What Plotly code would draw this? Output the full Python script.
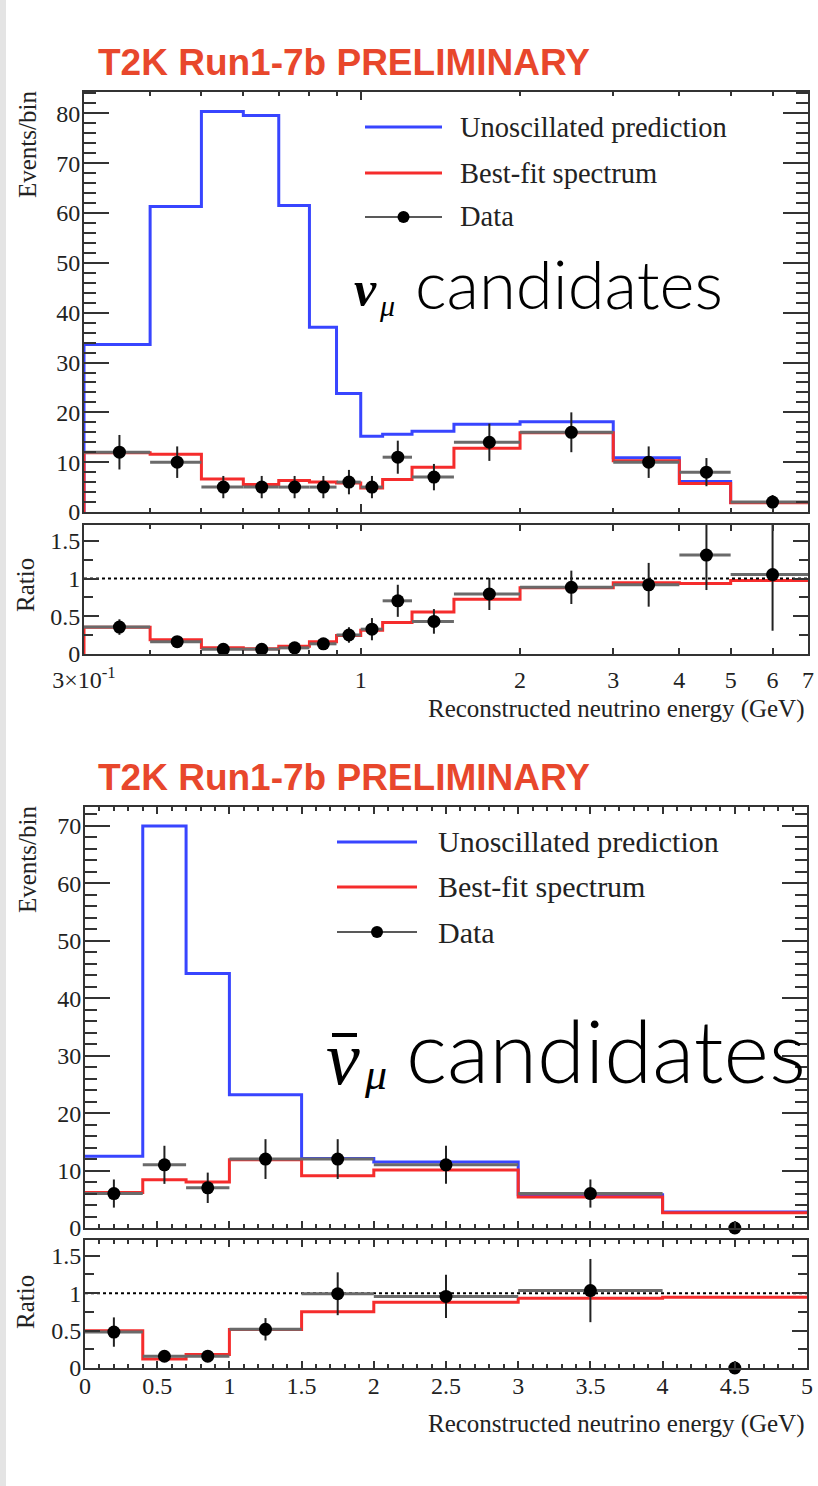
import math
import plotly.graph_objects as go

# ---------------- nu_mu sample (log energy axis) ----------------
numu_edges = [0.3, 0.4, 0.5, 0.6, 0.7, 0.8, 0.9, 1.0, 1.1, 1.25, 1.5, 2.0, 3.0, 4.0, 5.0, 7.0]
numu_unosc = [33.6, 61.3, 80.4, 79.6, 61.5, 37.1, 23.8, 15.2, 15.6, 16.2, 17.6, 18.1, 10.9, 6.1, 1.9]
numu_bestfit = [11.9, 11.6, 6.6, 5.5, 6.3, 6.0, 5.8, 4.8, 6.5, 9.0, 12.8, 15.9, 10.3, 5.7, 1.85]
numu_data = [12, 10, 5, 5, 5, 5, 6, 5, 11, 7, 14, 16, 10, 8, 2]

# ---------------- anti-nu_mu sample (linear energy axis) ----------------
anumu_edges = [0.0, 0.4, 0.7, 1.0, 1.5, 2.0, 3.0, 4.0, 5.0]
anumu_unosc = [12.5, 70.0, 44.3, 23.2, 12.1, 11.5, 5.8, 2.8]
anumu_bestfit = [6.2, 8.4, 8.0, 11.9, 9.1, 10.1, 5.4, 2.65]
anumu_data = [6, 11, 7, 12, 12, 11, 6, 0]

log_ticks = [0.3, 1, 2, 3, 4, 5, 6, 7]
log_ticktext = ["3×10<sup>-1</sup>", "1", "2", "3", "4", "5", "6", "7"]
log_minor = [0.4, 0.5, 0.6, 0.7, 0.8, 0.9]
lin_ticks = [0, 0.5, 1, 1.5, 2, 2.5, 3, 3.5, 4, 4.5, 5]
lin_ticktext = ["0", "0.5", "1", "1.5", "2", "2.5", "3", "3.5", "4", "4.5", "5"]
ratio_ticks = [0, 0.5, 1, 1.5]
ratio_ticktext = ["0", "0.5", "1", "1.5"]

W, H = 818, 1486
BLUE = "#3845ff"
RED = "#f52c2c"
FRAME = "#333333"
SERIF = "Liberation Serif"
TITLE_RED = "#e8472c"


def fx(p):
    return p / W


def fy(p):
    return 1 - p / H


def step_xy(edges, vals, from_zero=False):
    xs = list(edges)
    ys = list(vals) + [vals[-1]]
    if from_zero:
        xs = [edges[0]] + xs
        ys = [0] + ys
    return xs, ys


fig = go.Figure()


def add_panel(edges, unosc, bestfit, data, xa, ya, xr, yr, left_drop):
    centers = [(a + b) / 2 for a, b in zip(edges[:-1], edges[1:])]
    # empty bins get no error bars
    xm = [c - a if n > 0 else 0 for c, a, n in zip(centers, edges[:-1], data)]
    xp = [b - c if n > 0 else 0 for c, b, n in zip(centers, edges[1:], data)]
    errs = [math.sqrt(n) for n in data]

    # spectrum panel
    bx, by = step_xy(edges, unosc, left_drop)
    fig.add_trace(go.Scatter(x=bx, y=by, mode="lines", line=dict(color=BLUE, width=3, shape="hv"),
                             xaxis=xa, yaxis=ya, showlegend=False, hoverinfo="skip"))
    rx, ry = step_xy(edges, bestfit, left_drop)
    fig.add_trace(go.Scatter(x=rx, y=ry, mode="lines", line=dict(color=RED, width=3, shape="hv"),
                             xaxis=xa, yaxis=ya, showlegend=False, hoverinfo="skip"))
    fig.add_trace(go.Scatter(x=centers, y=data, mode="markers",
                             marker=dict(size=2, color="rgba(0,0,0,0)"),
                             error_x=dict(type="data", symmetric=False, array=xp, arrayminus=xm,
                                          color="#6a6a6a", thickness=3, width=0),
                             error_y=dict(type="data", array=errs, color="#222222", thickness=2, width=0),
                             xaxis=xa, yaxis=ya, showlegend=False, hoverinfo="skip"))
    fig.add_trace(go.Scatter(x=centers, y=data, mode="markers", cliponaxis=False,
                             marker=dict(size=13, color="black"),
                             xaxis=xa, yaxis=ya, showlegend=False, hoverinfo="skip"))

    # ratio panel
    r_fit = [b / u for b, u in zip(bestfit, unosc)]
    r_dat = [d / u for d, u in zip(data, unosc)]
    r_err = [e / u for e, u in zip(errs, unosc)]
    fx_, fy_ = step_xy(edges, r_fit, left_drop)
    fig.add_trace(go.Scatter(x=fx_, y=fy_, mode="lines", line=dict(color=RED, width=3, shape="hv"),
                             xaxis=xr, yaxis=yr, showlegend=False, hoverinfo="skip"))
    fig.add_trace(go.Scatter(x=[edges[0], edges[-1]], y=[1, 1], mode="lines",
                             line=dict(color="black", width=2, dash="dot"),
                             xaxis=xr, yaxis=yr, showlegend=False, hoverinfo="skip"))
    fig.add_trace(go.Scatter(x=centers, y=r_dat, mode="markers",
                             marker=dict(size=2, color="rgba(0,0,0,0)"),
                             error_x=dict(type="data", symmetric=False, array=xp, arrayminus=xm,
                                          color="#6a6a6a", thickness=3, width=0),
                             error_y=dict(type="data", array=r_err, color="#222222", thickness=2, width=0),
                             xaxis=xr, yaxis=yr, showlegend=False, hoverinfo="skip"))
    fig.add_trace(go.Scatter(x=centers, y=r_dat, mode="markers", cliponaxis=False,
                             marker=dict(size=13, color="black"),
                             xaxis=xr, yaxis=yr, showlegend=False, hoverinfo="skip"))


add_panel(numu_edges, numu_unosc, numu_bestfit, numu_data, "x", "y", "x2", "y2", True)
add_panel(anumu_edges, anumu_unosc, anumu_bestfit, anumu_data, "x3", "y3", "x4", "y4", False)

tickfont = dict(family=SERIF, size=24, color="#222222")
frame = dict(showline=True, linecolor=FRAME, linewidth=2, mirror="allticks", ticks="inside",
             tickcolor=FRAME, showgrid=False, zeroline=False, tickfont=tickfont, automargin=False)

log_range = [math.log10(numu_edges[0]), math.log10(numu_edges[-1])]

fig.update_layout(
    template="none",
    width=W, height=H, autosize=False,
    margin=dict(l=0, r=0, t=0, b=0, pad=0),
    paper_bgcolor="white", plot_bgcolor="white",
    xaxis=dict(**frame, type="log", range=log_range, domain=[fx(84), fx(808)], anchor="y",
               tickvals=[1], ticklen=8, tickwidth=1.5, showticklabels=False,
               minor=dict(tickvals=log_minor + [2, 3, 4, 5, 6], ticks="inside", ticklen=4, tickcolor=FRAME)),
    yaxis=dict(**frame, range=[0, 84.3], domain=[fy(512), fy(92)], anchor="x",
               tick0=0, dtick=10, ticklen=25, tickwidth=1.5, ticklabelstandoff=-3,
               minor=dict(dtick=2, ticks="inside", ticklen=12, tickcolor=FRAME)),
    xaxis2=dict(**frame, type="log", range=log_range, domain=[fx(84), fx(808)], anchor="y2",
                tickvals=log_ticks, ticktext=log_ticktext, ticklen=6, tickwidth=1.5,
                ticklabelstandoff=3,
                minor=dict(tickvals=log_minor, ticks="inside", ticklen=4, tickcolor=FRAME)),
    yaxis2=dict(**frame, range=[0, 1.71], domain=[fy(654), fy(525)], anchor="x2",
                tickvals=ratio_ticks, ticktext=ratio_ticktext, ticklen=15, tickwidth=1.5,
                ticklabelstandoff=-3,
                minor=dict(dtick=0.25, ticks="inside", ticklen=9, tickcolor=FRAME)),
    xaxis3=dict(**frame, range=[0, 5], domain=[fx(85), fx(807)], anchor="y3",
                tick0=0, dtick=0.5, ticklen=7, tickwidth=1.5, showticklabels=False,
                minor=dict(dtick=0.1, ticks="inside", ticklen=4, tickcolor=FRAME)),
    yaxis3=dict(**frame, range=[0, 73.3], domain=[fy(1228), fy(807)], anchor="x3",
                tick0=0, dtick=10, ticklen=25, tickwidth=1.5, ticklabelstandoff=-3,
                minor=dict(dtick=2, ticks="inside", ticklen=12, tickcolor=FRAME)),
    xaxis4=dict(**frame, range=[0, 5], domain=[fx(85), fx(807)], anchor="y4",
                tickvals=lin_ticks, ticktext=lin_ticktext, ticklen=7, tickwidth=1.5,
                ticklabelstandoff=-5,
                minor=dict(dtick=0.1, ticks="inside", ticklen=4, tickcolor=FRAME)),
    yaxis4=dict(**frame, range=[0, 1.71], domain=[fy(1368), fy(1240)], anchor="x4",
                tickvals=ratio_ticks, ticktext=ratio_ticktext, ticklen=15, tickwidth=1.5,
                ticklabelstandoff=-3,
                minor=dict(dtick=0.25, ticks="inside", ticklen=9, tickcolor=FRAME)),
)

annotations = []
shapes = []

# soft grey edge of the slide behind the figure
shapes.append(dict(type="rect", xref="paper", yref="paper", x0=0, x1=fx(6), y0=0, y1=1,
                   fillcolor="#e4e4e4", line=dict(width=0), layer="below"))


def text(x, y, s, size, family=SERIF, color="#222222", xanchor="left", angle=0, weight="normal", style="normal"):
    annotations.append(dict(x=fx(x), y=fy(y), xref="paper", yref="paper", text=s, showarrow=False,
                            xanchor=xanchor, yanchor="middle", textangle=angle,
                            font=dict(family=family, size=size, color=color, weight=weight, style=style)))


for top in (62, 777):
    text(96, top, "T2K Run1-7b PRELIMINARY", 37, family="Liberation Sans", color=TITLE_RED, weight="bold")

# axis titles
text(27, 145, "Events/bin", 25, xanchor="center", angle=-90)
text(25, 585, "Ratio", 25, xanchor="center", angle=-90)
text(807, 709, "Reconstructed neutrino energy (GeV)", 25, xanchor="right")
text(27, 860, "Events/bin", 25, xanchor="center", angle=-90)
text(25, 1302, "Ratio", 25, xanchor="center", angle=-90)
text(807, 1424, "Reconstructed neutrino energy (GeV)", 25, xanchor="right")


def legend(x0, x1, xt, rows, size):
    labels = ["Unoscillated prediction", "Best-fit spectrum", "Data"]
    colors = [BLUE, RED, "#222222"]
    widths = [3, 3, 1.5]
    for lab, col, w, yy in zip(labels, colors, widths, rows):
        shapes.append(dict(type="line", xref="paper", yref="paper", x0=fx(x0), x1=fx(x1),
                           y0=fy(yy), y1=fy(yy), line=dict(color=col, width=w)))
        text(xt, yy, lab, size)
    xc = (x0 + x1) / 2
    yd = rows[2]
    shapes.append(dict(type="circle", xref="paper", yref="paper", x0=fx(xc - 6), x1=fx(xc + 6),
                       y0=fy(yd + 6), y1=fy(yd - 6), fillcolor="black", line=dict(width=0)))


legend(365, 442, 458, [127, 173, 217], 28.5)
legend(337, 417, 436, [842, 887, 932], 30)

# sample labels
text(352, 289, "ν", 50, weight="bold", style="italic", color="black")
text(377, 305, "μ", 30, style="italic", color="black")
text(413, 283, "candidates", 67, family="Lato", color="black", weight=300)

text(324, 1058, "ν", 76, style="italic", color="black")
text(362, 1074, "μ", 44, style="italic", color="black")
shapes.append(dict(type="line", xref="paper", yref="paper", x0=fx(332), x1=fx(357),
                   y0=fy(1035), y1=fy(1035), line=dict(color="black", width=4)))
text(404, 1049, "candidates", 87, family="Lato", color="black", weight=300)

fig.update_layout(annotations=annotations, shapes=shapes)
fig.write_html("out.html")
